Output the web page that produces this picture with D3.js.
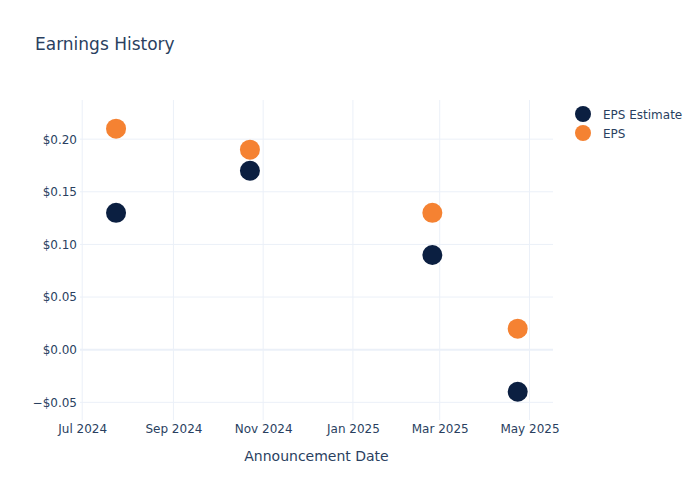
<!DOCTYPE html>
<html>
<head>
<meta charset="utf-8">
<script src="https://cdn.jsdelivr.net/npm/d3@7"></script>
<style>
  body { margin: 0; background: #fff; }
  text { font-family: "DejaVu Sans", "Open Sans", sans-serif; fill: #2a3f5f; }
</style>
</head>
<body>
<div id="chart-container"></div>
<script>
const announceDates = ['2024-07-24', '2024-10-23', '2025-02-24', '2025-04-23'];
const epsEstimate = [0.13, 0.17, 0.09, -0.04];
const epsActual = [0.21, 0.19, 0.13, 0.02];
const seriesNames = ['EPS Estimate', 'EPS'];
const seriesColors = ['#0b1f41', '#f58232'];
const xRange = ['2024-06-29T12:00', '2025-05-17T00:00'];
const yRange = [-0.0668, 0.2372];
const yTicks = [-0.05, 0, 0.05, 0.10, 0.15, 0.20];

displayChart();

function displayChart() {
  const width = 700;
  const height = 500;
  const margin = { top: 100, right: 147, bottom: 80, left: 80 };

  const svg = d3.select('#chart-container')
      .append('svg')
      .attr('width', width)
      .attr('height', height);

  const parse = d3.timeParse('%Y-%m-%d');
  const xScale = d3.scaleTime()
      .domain(xRange.map(d => new Date(d)))
      .range([margin.left, width - margin.right]);
  const yScale = d3.scaleLinear()
      .domain(yRange)
      .range([height - margin.bottom, margin.top]);

  // Title
  svg.append('text')
      .text('Earnings History')
      .attr('x', 35)
      .attr('y', 50)
      .attr('font-size', 17);

  // Gridlines
  const xTicks = d3.timeMonth.every(2).range(new Date('2024-07-01T00:00'), new Date('2025-05-02T00:00'));
  svg.append('g').selectAll('line')
      .data(xTicks)
      .join('line')
      .attr('x1', d => xScale(d))
      .attr('x2', d => xScale(d))
      .attr('y1', margin.top)
      .attr('y2', height - margin.bottom)
      .attr('stroke', '#ebf0f8');

  svg.append('g').selectAll('line')
      .data(yTicks)
      .join('line')
      .attr('x1', margin.left)
      .attr('x2', width - margin.right)
      .attr('y1', d => yScale(d))
      .attr('y2', d => yScale(d))
      .attr('stroke', '#ebf0f8')
      .attr('stroke-width', d => d === 0 ? 2 : 1);

  // X axis
  const xAxis = svg.append('g')
      .attr('transform', `translate(0, ${height - margin.bottom})`)
      .call(d3.axisBottom(xScale).tickValues(xTicks).tickFormat(d3.timeFormat('%b %Y')).tickSize(0).tickPadding(4));
  xAxis.select('.domain').remove();
  xAxis.selectAll('text').attr('font-size', 12).attr('font-family', null);

  // Y axis
  const yAxis = svg.append('g')
      .attr('transform', `translate(${margin.left}, 0)`)
      .call(d3.axisLeft(yScale).tickValues(yTicks).tickFormat(d3.format('$.2f')).tickSize(0).tickPadding(3));
  yAxis.select('.domain').remove();
  yAxis.selectAll('text').attr('font-size', 12).attr('font-family', null);

  // Axis title
  svg.append('text')
      .text('Announcement Date')
      .attr('x', (margin.left + width - margin.right) / 2)
      .attr('y', 461)
      .attr('text-anchor', 'middle')
      .attr('font-size', 14);

  // Points
  const series = [epsEstimate, epsActual];
  series.forEach((values, i) => {
    svg.append('g').selectAll('circle')
        .data(values)
        .join('circle')
        .attr('cx', (d, j) => xScale(parse(announceDates[j])))
        .attr('cy', d => yScale(d))
        .attr('r', 10)
        .attr('fill', seriesColors[i]);
  });

  // Legend
  const legend = svg.append('g').selectAll('g')
      .data(seriesNames)
      .join('g')
      .attr('transform', (d, i) => `translate(583, ${114 + i * 19})`);
  legend.append('circle')
      .attr('r', 8)
      .attr('fill', (d, i) => seriesColors[i]);
  legend.append('text')
      .text(d => d)
      .attr('x', 20)
      .attr('y', 4.5)
      .attr('font-size', 12);
}
</script>
</body>
</html>
